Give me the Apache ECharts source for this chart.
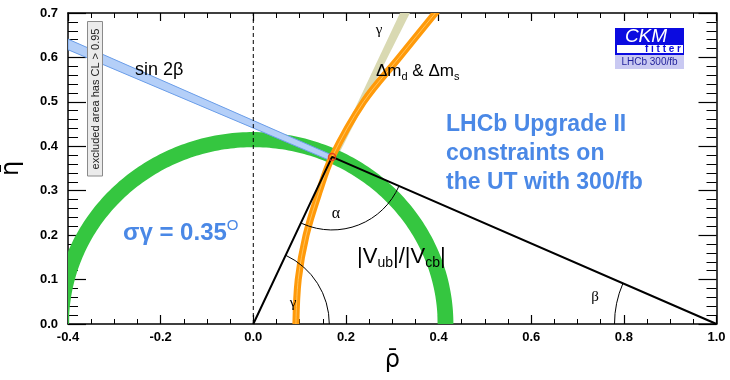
<!DOCTYPE html>
<html><head><meta charset="utf-8">
<script src="https://cdn.jsdelivr.net/npm/echarts/dist/echarts.min.js"></script>
<style>html,body{margin:0;padding:0;background:#fff}#c{width:730px;height:380px}</style>
</head><body><div id="c"></div>
<script>
// ---- data ----
const xRange = [-0.4, 1.0];
const yRange = [0.0, 0.7];
const apex = [0.170, 0.376];                  // rho-bar, eta-bar of UT apex
const triangle = [[0, 0], [0.170, 0.376], [1, 0]];
const rbRadii = [0.398, 0.432];              // |Vub|/|Vcb| band (circle about origin)
const sin2bSlopes = [0.441, 0.458];          // lines through (1,0)
const gammaSlopes = [2.07, 2.21];            // lines through (0,0)
const gammaEtaRange = [0.36, 0.7];
const dmEta = [0.00, 0.10, 0.20, 0.30, 0.376, 0.50, 0.60, 0.70, 0.72];
const dmRho = [0.092, 0.097, 0.114, 0.143, 0.170, 0.238, 0.315, 0.393, 0.409];
const dashedX = [[0, 0], [0, 0.7]];
const arcRadiiPx = {alpha: 73, gamma: 76, beta: 102};

const chart = echarts.init(document.getElementById('c'), null, {renderer: 'canvas'});

const gammaPoly = [
  [gammaEtaRange[0] / gammaSlopes[1], gammaEtaRange[0]],
  [gammaEtaRange[1] / gammaSlopes[1], gammaEtaRange[1]],
  [gammaEtaRange[1] / gammaSlopes[0], gammaEtaRange[1]],
  [gammaEtaRange[0] / gammaSlopes[0], gammaEtaRange[0]]
];
const rbPoly = [];
for (let i = 0; i <= 180; i++) {
  const t = Math.PI * i / 180;
  rbPoly.push([Math.max(xRange[0], rbRadii[1] * Math.cos(t)), rbRadii[1] * Math.sin(t)]);
}
for (let i = 180; i >= 0; i--) {
  const t = Math.PI * i / 180;
  rbPoly.push([Math.max(xRange[0], rbRadii[0] * Math.cos(t)), rbRadii[0] * Math.sin(t)]);
}
const sinPoly = [
  [xRange[0], sin2bSlopes[1] * (1 - xRange[0])],
  [apex[0], sin2bSlopes[1] * (1 - apex[0])],
  [apex[0], sin2bSlopes[0] * (1 - apex[0])],
  [xRange[0], sin2bSlopes[0] * (1 - xRange[0])]
];
const dmLine = dmEta.map((e, i) => [dmRho[i], e]);

function poly(pts, style, z) {
  return {
    type: 'custom', coordinateSystem: 'cartesian2d', data: [0], silent: true, z: z, clip: true,
    renderItem: (p, api) => ({type: 'polygon', shape: {points: pts.map(q => api.coord(q))}, style: style})
  };
}
function curve(pts, style, z) {
  return {
    type: 'custom', coordinateSystem: 'cartesian2d', data: [0], silent: true, z: z, clip: true,
    renderItem: (p, api) => ({type: 'polyline', shape: {points: pts.map(q => api.coord(q)), smooth: 0.35}, style: style})
  };
}
function angleArc(centerPt, fromPt, toPt, r, z) {
  return {
    type: 'custom', coordinateSystem: 'cartesian2d', data: [0], silent: true, z: z,
    renderItem: (p, api) => {
      const c = api.coord(centerPt), a = api.coord(fromPt), b = api.coord(toPt);
      const s = Math.atan2(a[1] - c[1], a[0] - c[0]);
      let e = Math.atan2(b[1] - c[1], b[0] - c[0]);
      while (e < s) e += 2 * Math.PI;
      return {type: 'arc', shape: {cx: c[0], cy: c[1], r: r, startAngle: s, endAngle: e, clockwise: true},
        style: {stroke: '#000', fill: null, lineWidth: 1}};
    }
  };
}

const lblFont = 'Liberation Sans';
const axisCommon = {
  type: 'value', splitLine: {show: false},
  axisLine: {show: true, onZero: false, lineStyle: {color: '#000', width: 1.5}}
};

const option = {
  animation: false,
  grid: {left: 68, right: 13.5, top: 13, bottom: 56, containLabel: false, outerBoundsMode: 'none'},
  xAxis: [
    Object.assign({}, axisCommon, {
      min: xRange[0], max: xRange[1], interval: 0.2, position: 'bottom',
      axisTick: {inside: true, length: 9, lineStyle: {color: '#000', width: 1.2}},
      minorTick: {show: true, splitNumber: 4, length: 5, lineStyle: {color: '#000', width: 1}},
      axisLabel: {formatter: v => v.toFixed(1), fontWeight: 'bold', fontSize: 13, color: '#000', margin: 7, fontFamily: lblFont},
      name: 'ρ\u0304', nameLocation: 'middle', nameGap: 24,
      nameTextStyle: {fontSize: 24, color: '#000', fontFamily: 'DejaVu Sans'}
    }),
    Object.assign({}, axisCommon, {
      min: xRange[0], max: xRange[1], interval: 0.2, position: 'top',
      axisTick: {inside: true, length: 8, lineStyle: {color: '#000', width: 1.2}},
      minorTick: {show: true, splitNumber: 4, length: 5, lineStyle: {color: '#000', width: 1}},
      axisLabel: {show: false}
    })
  ],
  yAxis: [
    Object.assign({}, axisCommon, {
      min: yRange[0], max: yRange[1], interval: 0.1, position: 'left',
      axisTick: {inside: true, length: 18, lineStyle: {color: '#000', width: 1.2}},
      minorTick: {show: true, splitNumber: 5, length: 10, lineStyle: {color: '#000', width: 1}},
      axisLabel: {formatter: v => v.toFixed(1), fontWeight: 'bold', fontSize: 13, color: '#000', margin: 10, fontFamily: lblFont},
      name: 'η\u0304', nameLocation: 'middle', nameGap: 44, nameRotate: 90,
      nameTextStyle: {fontSize: 24, color: '#000', fontFamily: 'DejaVu Sans'}
    }),
    Object.assign({}, axisCommon, {
      min: yRange[0], max: yRange[1], interval: 0.1, position: 'right',
      axisTick: {inside: true, length: 18, lineStyle: {color: '#000', width: 1.2}},
      minorTick: {show: true, splitNumber: 5, length: 10, lineStyle: {color: '#000', width: 1}},
      axisLabel: {show: false}
    })
  ],
  series: [
    poly(gammaPoly, {fill: '#d9d9b2'}, 1),
    poly(rbPoly, {fill: '#35c640'}, 2),
    poly(sinPoly, {fill: '#b4cff8', stroke: '#6a9de8', lineWidth: 1}, 3),
    curve(dmLine, {stroke: '#ff9a0a', lineWidth: 7, fill: null}, 4),
    curve(dmLine, {stroke: '#ffc35a', lineWidth: 1, fill: null}, 4),
    {type: 'line', data: dashedX, showSymbol: false, z: 5, silent: true,
      lineStyle: {color: '#000', width: 1, type: [4, 3]}},
    {type: 'line', data: triangle, showSymbol: false, z: 6, silent: true,
      lineStyle: {color: '#000', width: 2}},
    angleArc(triangle[1], triangle[2], triangle[0], arcRadiiPx.alpha, 6),
    angleArc(triangle[0], triangle[1], triangle[2], arcRadiiPx.gamma, 6),
    angleArc(triangle[2], [0.5, 0], triangle[1], arcRadiiPx.beta, 6),
    {type: 'scatter', data: [apex], symbol: 'circle', symbolSize: 7, z: 7, silent: true,
      itemStyle: {color: 'rgba(255,255,255,0)', borderColor: '#e03020', borderWidth: 1.5}}
  ],
  graphic: [
    {type: 'rect', shape: {x: 87.5, y: 21.5, width: 15, height: 154.5}, style: {fill: '#ebebeb', stroke: '#8a8a8a', lineWidth: 1}, z: 20},
    {type: 'text', x: 95.5, y: 99, rotation: Math.PI / 2, z: 21,
      style: {text: 'excluded area has CL > 0.95', fontSize: 11, fontFamily: lblFont, fill: '#222', textAlign: 'center', textVerticalAlign: 'middle'}},
    {type: 'text', x: 135, y: 70, z: 20, style: {text: 'sin 2β', fontSize: 18, fontFamily: lblFont, fill: '#000', textVerticalAlign: 'middle'}},
    {type: 'text', x: 379, y: 30, z: 20, style: {text: 'γ', fontSize: 15, fontFamily: 'Liberation Serif', fill: '#000', textAlign: 'center', textVerticalAlign: 'middle'}},
    {type: 'text', x: 376, y: 71, z: 20, style: {
      text: '{a|Δm}{s|d}{a| & Δm}{s|s}', fontFamily: lblFont, fill: '#000', textVerticalAlign: 'middle',
      rich: {a: {fontSize: 17, lineHeight: 22, fontFamily: lblFont, verticalAlign: 'middle'},
             s: {fontSize: 11, lineHeight: 11, fontFamily: lblFont, verticalAlign: 'bottom'}}}},
    {type: 'text', x: 357, y: 257, z: 20, style: {
      text: '{a||V}{s|ub}{a||/|V}{s|cb}{a||}', fontFamily: lblFont, fill: '#000', textVerticalAlign: 'middle',
      rich: {a: {fontSize: 22, lineHeight: 26, fontFamily: lblFont, verticalAlign: 'middle'},
             s: {fontSize: 14, lineHeight: 14, fontFamily: lblFont, verticalAlign: 'bottom'}}}},
    {type: 'text', x: 336, y: 214, z: 20, style: {text: 'α', fontSize: 16, fontFamily: 'Liberation Serif', fill: '#000', textAlign: 'center', textVerticalAlign: 'middle'}},
    {type: 'text', x: 293, y: 303, z: 20, style: {text: 'γ', fontSize: 15, fontFamily: 'Liberation Serif', fill: '#000', textAlign: 'center', textVerticalAlign: 'middle'}},
    {type: 'text', x: 595, y: 297, z: 20, style: {text: 'β', fontSize: 15, fontFamily: 'Liberation Serif', fill: '#000', textAlign: 'center', textVerticalAlign: 'middle'}},
    {type: 'text', x: 446, y: 125, z: 20, style: {text: 'LHCb Upgrade II', fontSize: 23, fontWeight: 'bold', fontFamily: lblFont, fill: '#4a88e6', textVerticalAlign: 'middle'}},
    {type: 'text', x: 446, y: 154, z: 20, style: {text: 'constraints on', fontSize: 23, fontWeight: 'bold', fontFamily: lblFont, fill: '#4a88e6', textVerticalAlign: 'middle'}},
    {type: 'text', x: 446, y: 183, z: 20, style: {text: 'the UT with 300/fb', fontSize: 23, fontWeight: 'bold', fontFamily: lblFont, fill: '#4a88e6', textVerticalAlign: 'middle'}},
    {type: 'text', x: 123, y: 233, z: 20, style: {
      text: '{a|σγ = 0.35}{b|O}', fill: '#4a88e6', textVerticalAlign: 'middle',
      rich: {a: {fontSize: 24, fontWeight: 'bold', fontFamily: lblFont, lineHeight: 30, verticalAlign: 'middle', fill: '#4a88e6'},
             b: {fontSize: 15, fontFamily: lblFont, lineHeight: 15, verticalAlign: 'top', fill: '#4a88e6'}}}},
    {type: 'rect', shape: {x: 615, y: 28, width: 69, height: 27}, style: {fill: '#0b0be0'}, z: 20},
    {type: 'text', x: 646, y: 37, z: 21, style: {text: 'CKM', fontSize: 19, fontStyle: 'italic', fontFamily: lblFont, fill: '#fff', textAlign: 'center', textVerticalAlign: 'middle'}},
    {type: 'rect', shape: {x: 617, y: 45, width: 66, height: 8}, style: {fill: '#fff'}, z: 21},
    {type: 'text', x: 681, y: 49.5, z: 22, style: {text: 'f i t t e r', fontSize: 10, fontWeight: 'bold', fontFamily: lblFont, fill: '#0b0be0', textAlign: 'right', textVerticalAlign: 'middle'}},
    {type: 'rect', shape: {x: 615, y: 55, width: 69, height: 14}, style: {fill: '#c9c9f2'}, z: 20},
    {type: 'text', x: 649.5, y: 62.5, z: 21, style: {text: 'LHCb 300/fb', fontSize: 10, fontFamily: lblFont, fill: '#1e1e9a', textAlign: 'center', textVerticalAlign: 'middle'}}
  ]
};
chart.setOption(option);
</script>
</body></html>
